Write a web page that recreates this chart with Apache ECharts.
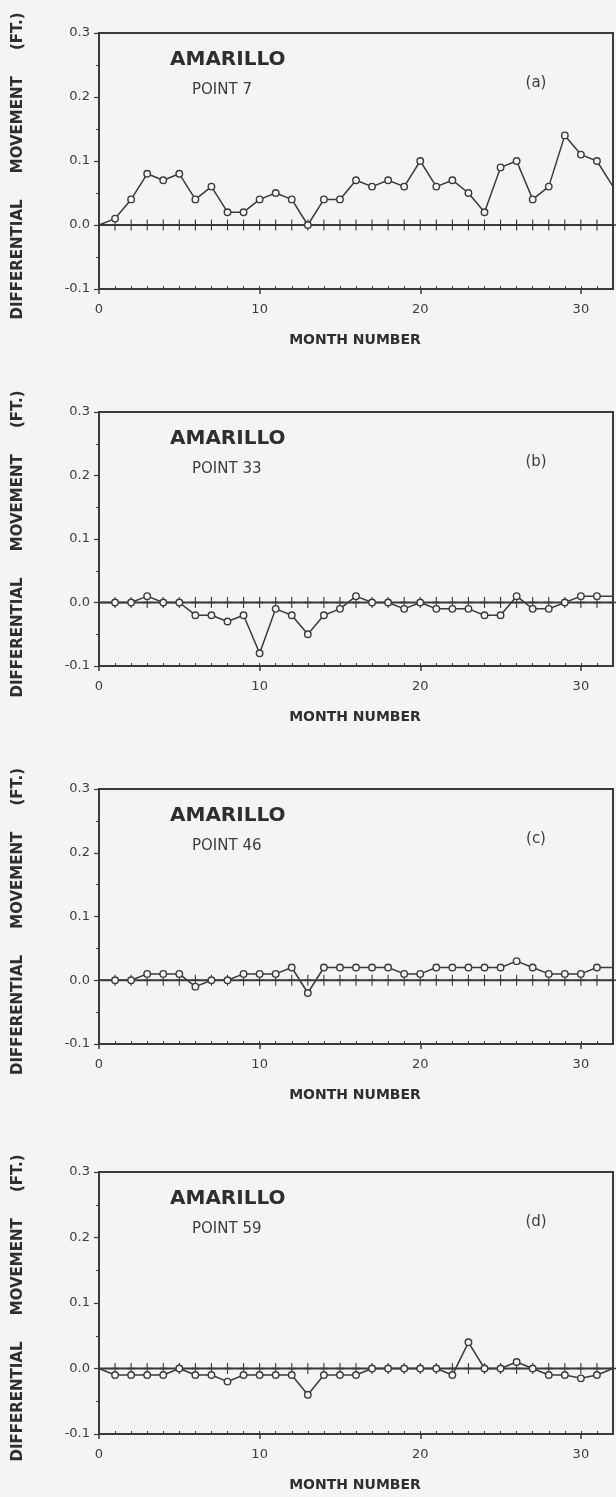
<!DOCTYPE html>
<html><head><meta charset="utf-8">
<script src="https://cdn.jsdelivr.net/npm/echarts@6/dist/echarts.min.js"></script>
<style>html,body{margin:0;padding:0;background:#f4f4f2}#c{width:616px;height:1497px}</style>
</head><body><div id="c"></div>
<script>
// ---------- data ----------
const monthNumbers = [0,1,2,3,4,5,6,7,8,9,10,11,12,13,14,15,16,17,18,19,20,21,22,23,24,25,26,27,28,29,30,31,32];
const xTickLabels = ['0','10','20','30'];
const yTickLabels = ['-0.1','0.0','0.1','0.2','0.3'];
const siteName = 'AMARILLO';
const pointNames = ['POINT 7','POINT 33','POINT 46','POINT 59'];
const panelLetters = ['(a)','(b)','(c)','(d)'];
const xAxisTitle = 'MONTH NUMBER';
const yAxisTitle = 'DIFFERENTIAL     MOVEMENT     (FT.)';

const point7  = [0,0.01,0.04,0.08,0.07,0.08,0.04,0.06,0.02,0.02,0.04,0.05,0.04,0.00,0.04,0.04,0.07,0.06,0.07,0.06,0.10,0.06,0.07,0.05,0.02,0.09,0.10,0.04,0.06,0.14,0.11,0.10,0.06];
const point33 = [0,0,0,0.01,0,0,-0.02,-0.02,-0.03,-0.02,-0.08,-0.01,-0.02,-0.05,-0.02,-0.01,0.01,0,0,-0.01,0,-0.01,-0.01,-0.01,-0.02,-0.02,0.01,-0.01,-0.01,0,0.01,0.01,0.01];
const point46 = [0,0,0,0.01,0.01,0.01,-0.01,0,0,0.01,0.01,0.01,0.02,-0.02,0.02,0.02,0.02,0.02,0.02,0.01,0.01,0.02,0.02,0.02,0.02,0.02,0.03,0.02,0.01,0.01,0.01,0.02,0.02];
const point59 = [0,-0.01,-0.01,-0.01,-0.01,0,-0.01,-0.01,-0.02,-0.01,-0.01,-0.01,-0.01,-0.04,-0.01,-0.01,-0.01,0,0,0,0,0,-0.01,0.04,0,0,0.01,0,-0.01,-0.01,-0.015,-0.01,0];
const reference = [0,0,0,0,0,0,0,0,0,0,0,0,0,0,0,0,0,0,0,0,0,0,0,0,0,0,0,0,0,0,0,0,0];
const panelSeries = [point7, point33, point46, point59];

// ---------- layout ----------
const panels = [
  {top: 33, height: 256},
  {top: 412, height: 254},
  {top: 789, height: 255},
  {top: 1172, height: 262}
];
const INK = '#3a3a3a';
const TXT = '#3c3c3c';
const BG = '#f4f4f2';
const FONT = '"DejaVu Sans", sans-serif';

const grid = [], xAxis = [], yAxis = [], series = [], graphic = [];
panels.forEach((p, i) => {
  grid.push({left: 99, width: 514, top: p.top, height: p.height, show: true,
    borderColor: INK, borderWidth: 2, backgroundColor: 'transparent'});
  // minor month ticks (inside)
  xAxis.push({type: 'value', gridIndex: i, position: 'bottom', offset: 0, min: 0, max: 32, interval: 1,
    axisLine: {show: true, onZero: false, lineStyle: {color: INK, width: 2}},
    axisTick: {show: true, inside: true, length: 3, lineStyle: {color: INK, width: 1}},
    axisLabel: {show: false}, splitLine: {show: false}});
  // major ticks and labels
  xAxis.push({type: 'value', gridIndex: i, position: 'bottom', offset: 0, min: 0, max: 32, interval: 10,
    axisLine: {show: false, onZero: false},
    axisTick: {show: true, inside: false, length: 5, lineStyle: {color: INK, width: 1.5}},
    axisLabel: {show: true, margin: 14, color: TXT, fontSize: 13, fontFamily: FONT, showMaxLabel: false,
      formatter: v => xTickLabels.includes(String(v)) ? String(v) : ''},
    splitLine: {show: false}});
  yAxis.push({type: 'value', gridIndex: i, position: 'left', min: -0.1, max: 0.3, interval: 0.1,
    axisLine: {show: true, onZero: false, lineStyle: {color: INK, width: 2}},
    axisTick: {show: true, inside: false, length: 5, lineStyle: {color: INK, width: 1.2}},
    minorTick: {show: true, splitNumber: 2, length: 3, lineStyle: {color: INK, width: 1}},
    axisLabel: {show: true, margin: 9, color: TXT, fontSize: 13, fontFamily: FONT,
      formatter: (v, idx) => yTickLabels[idx] !== undefined ? yTickLabels[idx] : ''},
    splitLine: {show: false}});

  // zero reference line with crosses
  series.push({type: 'line', xAxisIndex: 2 * i, yAxisIndex: i, z: 2,
    data: monthNumbers.map((m, k) => [m, reference[k]]),
    symbol: (v, prm) => prm.dataIndex === 0 ? 'none' : 'path://M4.3,0H5.7V10H4.3Z M0,4.4H10V5.6H0Z',
    symbolSize: [8, 11], symbolKeepAspect: false,
    itemStyle: {color: INK},
    lineStyle: {color: INK, width: 2.2}, silent: true, animation: false});
  // measured movement
  series.push({type: 'line', xAxisIndex: 2 * i, yAxisIndex: i, z: 3,
    data: monthNumbers.map((m, k) => [m, panelSeries[i][k]]),
    symbol: (v, prm) => (prm.dataIndex === 0 || prm.dataIndex === 32) ? 'none' : 'circle',
    symbolSize: 6.5,
    itemStyle: {color: BG, borderColor: INK, borderWidth: 1.4},
    lineStyle: {color: INK, width: 1.5}, animation: false});

  // texts
  graphic.push({type: 'text', x: 170, y: p.top + 27,
    style: {text: siteName, font: 'bold 20px ' + FONT, fill: '#2e2e2e', align: 'left', verticalAlign: 'middle'}});
  graphic.push({type: 'text', x: 192, y: p.top + 57,
    style: {text: pointNames[i], font: '15px ' + FONT, fill: TXT, align: 'left', verticalAlign: 'middle'}});
  graphic.push({type: 'text', x: 536, y: p.top + 50,
    style: {text: panelLetters[i], font: '15px ' + FONT, fill: TXT, align: 'center', verticalAlign: 'middle'}});
  graphic.push({type: 'text', x: 355, y: p.top + p.height + 51,
    style: {text: xAxisTitle, font: 'bold 14px ' + FONT, fill: '#2e2e2e', align: 'center', verticalAlign: 'middle'}});
  graphic.push({type: 'text', x: 18, y: p.top + p.height / 2 + 5, rotation: Math.PI / 2,
    style: {text: yAxisTitle, font: 'bold 15px ' + FONT, fill: '#2e2e2e', align: 'center', verticalAlign: 'middle'}});
});

const chart = echarts.init(document.getElementById('c'), null, {renderer: 'canvas'});
chart.setOption({backgroundColor: BG, animation: false, grid, xAxis, yAxis, series, graphic});
</script></body></html>
